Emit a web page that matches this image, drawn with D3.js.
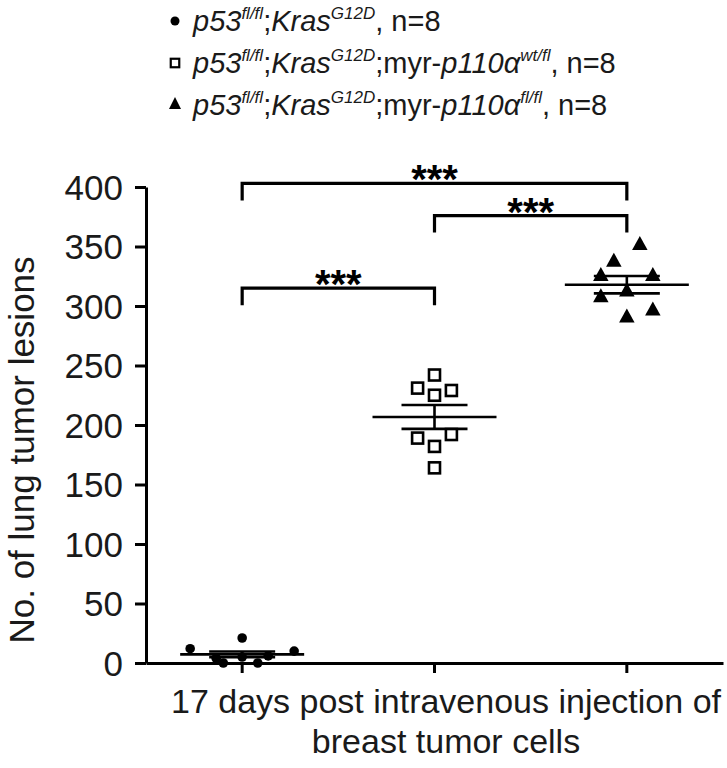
<!DOCTYPE html>
<html><head><meta charset="utf-8">
<script src="https://cdn.jsdelivr.net/npm/d3@7"></script>
<style>body{margin:0;background:#fff} svg{display:block}</style>
</head><body>
<script>
// ---- data ----
const groups = ["KrasG12D", "KrasG12D_myr_wt_fl", "KrasG12D_myr_fl_fl"];
const circleValues   = [12, 21, 10, 0, 0, 4, 5, 6];
const circleSlots    = [-4, 0, 4, -1.45, 1.2, -2, 0, 2];
const squareValues   = [242, 231, 229, 225, 189, 192, 182, 164];
const squareSlots    = [0, -1.3, 1.3, 0, -1.3, 1.3, 0, 0];
const triangleValues = [351, 337, 325, 325, 312, 307, 290, 296];
const triangleSlots  = [1, -1, -2, 2, 0, -2, 0, 2];
const yTicks = [0, 50, 100, 150, 200, 250, 300, 350, 400];
const bracketFrom  = [0, 1, 0];
const bracketTo    = [2, 2, 1];
const bracketLevel = [403, 376, 315];
const bracketLabel = ["***", "***", "***"];
const yTitle = "No. of lung tumor lesions";
const xTitleLines = ["17 days post intravenous injection of", "breast tumor cells"];
const legendRows = [
  [["p53","i"],["fl/fl","si"],[";",""],["Kras","i"],["G12D","si"],[", n=8",""]],
  [["p53","i"],["fl/fl","si"],[";",""],["Kras","i"],["G12D","si"],[";myr-",""],["p110α","i"],["wt/fl","si"],[", n=8",""]],
  [["p53","i"],["fl/fl","si"],[";",""],["Kras","i"],["G12D","si"],[";myr-",""],["p110α","i"],["fl/fl","si"],[", n=8",""]]
];
const legendShapes = ["circle", "square", "triangle"];

// ---- setup ----
const W = 727, H = 768;
const FONT = "'Liberation Sans', Arial, sans-serif";
const svg = d3.select("body").append("svg").attr("width", W).attr("height", H)
  .style("font-family", FONT);

const y = d3.scaleLinear().domain([0, 400]).range([663, 187]);
const x = d3.scaleBand().domain(groups).range([146, 723]).padding(0);
const cx = g => x(g) + x.bandwidth() / 2;
const slot = d3.scaleLinear().domain([-1, 1]).range([-13, 13]);

const series = [
  {g: groups[0], shape: "circle",   vals: circleValues,   slots: circleSlots},
  {g: groups[1], shape: "square",   vals: squareValues,   slots: squareSlots},
  {g: groups[2], shape: "triangle", vals: triangleValues, slots: triangleSlots}
];

function drawShape(sel, shape, big) {
  if (shape === "circle") {
    sel.append("circle").attr("r", big ? 4.8 : 4.5).attr("fill", "#000");
  } else if (shape === "square") {
    const s = big ? 11 : 8.5;
    sel.append("rect").attr("x", -s/2).attr("y", -s/2).attr("width", s).attr("height", s)
      .attr("fill", "#fff").attr("stroke", "#000").attr("stroke-width", big ? 2.6 : 2.2);
  } else {
    const w = big ? 15.5 : 12, h = big ? 14 : 12;
    sel.append("path").attr("d", `M0,${-2*h/3}L${w/2},${h/3}L${-w/2},${h/3}Z`).attr("fill", "#000");
  }
}

// ---- axes ----
const yAxis = svg.append("g").attr("transform", "translate(146,0)")
  .call(d3.axisLeft(y).tickValues(yTicks).tickSize(11).tickSizeOuter(0).tickPadding(12));
yAxis.selectAll("text").style("font-size", "35px").style("font-family", FONT).attr("fill", "#1a1a1a").attr("dy", "0.35em");
yAxis.selectAll("line").attr("stroke", "#000").attr("stroke-width", 3);
yAxis.select(".domain").attr("stroke", "#000").attr("stroke-width", 3);

const xAxis = svg.append("g").attr("transform", "translate(0,663)")
  .call(d3.axisBottom(x).tickSize(10).tickSizeOuter(0).tickFormat(""));
xAxis.selectAll("line").attr("stroke", "#000").attr("stroke-width", 3);
xAxis.select(".domain").attr("stroke", "#000").attr("stroke-width", 3);

// ---- mean + SEM ----
series.forEach(s => {
  const m = d3.mean(s.vals);
  const sem = d3.deviation(s.vals) / Math.sqrt(s.vals.length);
  const c = cx(s.g);
  const g = svg.append("g").attr("stroke", "#000").attr("stroke-width", 2.6);
  g.append("line").attr("x1", c - 62).attr("x2", c + 62).attr("y1", y(m)).attr("y2", y(m));
  g.append("line").attr("x1", c - 33).attr("x2", c + 33).attr("y1", y(m + sem)).attr("y2", y(m + sem));
  g.append("line").attr("x1", c - 33).attr("x2", c + 33).attr("y1", y(m - sem)).attr("y2", y(m - sem));
  g.append("line").attr("x1", c).attr("x2", c).attr("y1", y(m + sem)).attr("y2", y(m - sem));
});

// ---- points ----
series.forEach(s => {
  const c = cx(s.g);
  s.vals.forEach((v, i) => {
    const p = svg.append("g").attr("transform", `translate(${c + slot(s.slots[i])},${y(v)})`);
    drawShape(p, s.shape, true);
  });
});

// ---- significance brackets ----
bracketLevel.forEach((lv, i) => {
  const x1 = cx(groups[bracketFrom[i]]), x2 = cx(groups[bracketTo[i]]);
  const yy = y(lv);
  svg.append("path").attr("d", `M${x1},${yy + 17}V${yy}H${x2}V${yy + 17}`)
    .attr("fill", "none").attr("stroke", "#000").attr("stroke-width", 3.2);
  svg.append("text").attr("x", (x1 + x2) / 2).attr("y", yy + 10)
    .attr("text-anchor", "middle").style("font-size", "40px").style("font-weight", "bold")
    .attr("fill", "#000").text(bracketLabel[i]);
});

// ---- titles ----
svg.append("text").attr("transform", "translate(34,450) rotate(-90)")
  .attr("text-anchor", "middle").style("font-size", "35px").attr("fill", "#1a1a1a").text(yTitle);
xTitleLines.forEach((t, i) => {
  svg.append("text").attr("x", 446).attr("y", 713 + i * 40)
    .attr("text-anchor", "middle").style("font-size", "34px").attr("fill", "#1a1a1a").text(t);
});

// ---- legend ----
legendRows.forEach((row, r) => {
  const baseY = 31 + r * 42;
  const m = svg.append("g").attr("transform", `translate(175,${baseY - 10})`);
  drawShape(m, legendShapes[r], false);
  const t = svg.append("text").attr("x", 193).attr("y", baseY).style("font-size", "29px").attr("fill", "#1a1a1a");
  let sup = false;
  row.forEach(([txt, st]) => {
    const isSup = st.includes("s");
    const ts = t.append("tspan").text(txt);
    if (st.includes("i")) ts.style("font-style", "italic");
    if (isSup) ts.style("font-size", "17px");
    if (isSup && !sup) ts.attr("dy", -12);
    if (!isSup && sup) ts.attr("dy", 12);
    sup = isSup;
  });
});
</script>
</body></html>
